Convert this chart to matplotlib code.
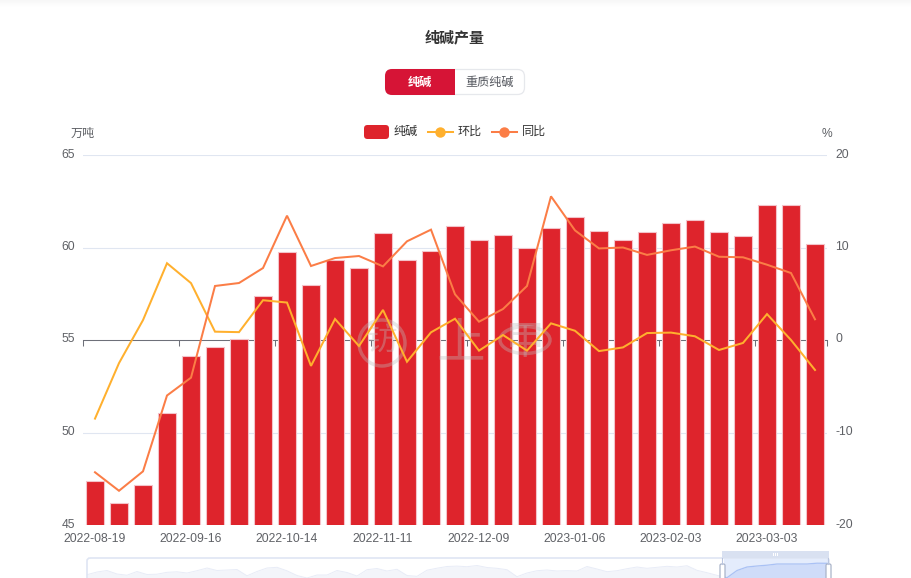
import numpy as np
import matplotlib
matplotlib.use("Agg")
import matplotlib.pyplot as plt
from matplotlib.lines import Line2D
from matplotlib.patches import Circle, Ellipse, FancyBboxPatch, Rectangle
from matplotlib.transforms import ScaledTranslation

plt.rcParams['font.family'] = ['Liberation Sans', 'Noto Sans CJK SC', 'DejaVu Sans']
plt.rcParams['axes.unicode_minus'] = False

dates = ["2022-08-19", "2022-08-26", "2022-09-02", "2022-09-09", "2022-09-16", "2022-09-23",
         "2022-09-30", "2022-10-07", "2022-10-14", "2022-10-21", "2022-10-28", "2022-11-04",
         "2022-11-11", "2022-11-18", "2022-11-25", "2022-12-02", "2022-12-09", "2022-12-16",
         "2022-12-23", "2022-12-30", "2023-01-06", "2023-01-13", "2023-01-20", "2023-01-27",
         "2023-02-03", "2023-02-10", "2023-02-17", "2023-02-24", "2023-03-03", "2023-03-10",
         "2023-03-17"]
output = [47.4, 46.2, 47.15, 51.05, 54.15, 54.6, 55.05, 57.4, 59.75, 58.0, 59.3, 58.9, 60.8,
          59.3, 59.8, 61.15, 60.4, 60.7, 60.0, 61.05, 61.65, 60.9, 60.4, 60.85, 61.3, 61.5,
          60.85, 60.6, 62.3, 62.3, 60.2]
mom = [-8.5, -2.5, 2.15, 8.3, 6.15, 0.9, 0.85, 4.3, 4.05, -2.8, 2.27, -0.65, 3.25, -2.35, 0.83,
       2.3, -1.15, 0.54, -1.15, 1.8, 1.0, -1.2, -0.8, 0.75, 0.8, 0.4, -1.08, -0.32, 2.8, 0.0,
       -3.24]
yoy = [-14.3, -16.3, -14.2, -6.0, -4.07, 5.84, 6.16, 7.78, 13.44, 8.0, 8.86, 9.08, 7.96, 10.67,
       11.93, 4.94, 1.98, 3.35, 5.84, 15.53, 11.85, 9.9, 10.0, 9.2, 9.7, 10.1, 9.0, 8.94, 8.14,
       7.24, 2.24]
left_ticks = [45, 50, 55, 60, 65]
right_ticks = [-20, -10, 0, 10, 20]

# overview strip under the chart, full history (only the top of it is inside the picture)
history = [3.3, 6, 7.5, 4, 2.8, 6.5, 3.5, 3.8, 5.7, 6.2, 5, 7.3, 10, 7.5, 8, 8.5, 2.2, 6.5, 10,
           10.7, 7.2, 2.5, 0, 3, 3, 7.5, 5.5, 2, 8.3, 9.5, 7, 8.7, 2.5, 1.7, 7.8, 9.8, 11.5, 11.9,
           11.3, 12.5, 10.5, 9.7, 8.3, 1.3, 5, 7.3, 8, 7, 7.3, 7, 11.5, 9, 6.3, 7.3, 9.3, 11, 9.7,
           10.7, 11.7, 11, 12.3, 7.7, 5.3, 2.7, 0.3, 7.5, 11, 12, 12.8, 14, 14, 14, 14, 14.8, 14.7]

BAR = '#de242c'
MOM = '#ffb02e'
YOY = '#fb7d46'
GRID = '#e0e6f1'
TEXT = '#5f6166'

W, H = 912, 578
fig = plt.figure(figsize=(W / 100, H / 100), dpi=100, facecolor='white')


def px_axes(x0, y0, x1, y1, **kw):
    # axes placed by picture pixels, y going down
    return fig.add_axes([x0 / W, 1 - y1 / H, (x1 - x0) / W, (y1 - y0) / H], **kw)


# faint band along the top edge
band = px_axes(0, 0, W, 7)
band.imshow(np.linspace(0.965, 1, 32).reshape(-1, 1), cmap='gray', vmin=0, vmax=1, aspect='auto')
band.axis('off')

# full picture overlay in pixel coords, for the non-data pieces
over = px_axes(0, 0, W, H, zorder=5)
over.set_xlim(0, W)
over.set_ylim(H, 0)
over.axis('off')

ax = px_axes(83, 155, 827, 525, zorder=2)
x = np.arange(len(dates))
ax.bar(x, output, width=0.71, color=BAR, edgecolor='#f3c3c9', linewidth=0.8, zorder=2)
ax.set_xlim(-0.5, len(dates) - 0.5)
ax.set_ylim(45, 65)
ax.set_yticks(left_ticks)
ax.set_xticks(x[::4])
ax.set_xticklabels(dates[::4])
ax.tick_params(axis='both', length=0, labelsize=8.7, labelcolor=TEXT)
ax.tick_params(axis='x', pad=5.7)
ax.tick_params(axis='y', pad=5.8)
ax.yaxis.grid(True, color=GRID, linewidth=0.8, zorder=0)
ax.set_axisbelow(True)
for s in ax.spines.values():
    s.set_visible(False)

# the category axis line runs at the zero of the right scale, behind the bars
zero_axis = ax.secondary_xaxis(0.5)
zero_axis.set_xticks(list(x[::4] - 0.5) + [len(dates) - 0.5])
zero_axis.set_xticklabels([])
zero_axis.tick_params(length=4, width=0.75, color='#6e7079', direction='in')
for side in ['top', 'bottom']:
    zero_axis.spines[side].set_color('#6e7079')
    zero_axis.spines[side].set_linewidth(0.75)
zero_axis.set_zorder(1)

# watermark sits over the bars but under the lines
wm = dict(color='#bdbdbd', alpha=0.36, zorder=5, transform=over.transData, clip_on=False)
ax.add_patch(Circle((382, 343), 23, fill=False, linewidth=2.5, ec=wm['color'], alpha=wm['alpha'],
                    zorder=5, transform=over.transData))
ax.add_patch(Ellipse((525, 340), 50, 27, fill=False, linewidth=2.5, ec=wm['color'], alpha=wm['alpha'],
                     zorder=5, transform=over.transData))
ax.text(382, 343, "钫", fontsize=23, ha='center', va='center', **wm)
ax.text(461, 345, "上", fontsize=35, ha='center', va='center', **wm)
ax.text(525, 343, "甲", fontsize=29, ha='center', va='center', **wm)

ax2 = ax.twinx()
ax2.set_zorder(3)
ax2.plot(x, mom, color=MOM, linewidth=1.45, solid_joinstyle='miter')
ax2.plot(x, yoy, color=YOY, linewidth=1.45, solid_joinstyle='miter')
ax2.set_ylim(-20, 20)
ax2.set_yticks(right_ticks)
ax2.tick_params(axis='y', length=0, labelsize=8.7, labelcolor=TEXT, pad=5.8)
for s in ax2.spines.values():
    s.set_visible(False)

# y tick labels sit a little above their grid lines
nudge = ScaledTranslation(0, 2 / 100, fig.dpi_scale_trans)
for label in ax.get_yticklabels() + ax2.get_yticklabels():
    label.set_transform(label.get_transform() + nudge)

# title and the two switch buttons
over.text(455, 38, "纯碱产量", fontsize=10.8, color='#333333', ha='center', va='center', fontweight='bold')
over.add_patch(FancyBboxPatch((385.5, 69.5), 139, 25, boxstyle="round,pad=0,rounding_size=7",
                              fc='white', ec='#e6e8ec', lw=0.9))
red = FancyBboxPatch((385, 69), 140, 26, boxstyle="round,pad=0,rounding_size=7", fc='#d61436', ec='none')
over.add_patch(red)
red.set_clip_path(Rectangle((385, 69), 70, 26, transform=over.transData))
over.text(420, 82.5, "纯碱", fontsize=8.7, color='white', ha='center', va='center', fontweight='bold')
over.text(490, 82.5, "重质纯碱", fontsize=8.7, color='#55585f', ha='center', va='center', fontweight='medium')

# legend
over.add_patch(FancyBboxPatch((364, 125), 25, 14, boxstyle="round,pad=0,rounding_size=3.5", fc=BAR, ec='none'))
over.text(394, 132, "纯碱", fontsize=8.7, color='#333333', va='center')
for x0, color, label in [(428, MOM, "环比"), (492, YOY, "同比")]:
    over.add_line(Line2D([x0, x0 + 25], [132, 132], color=color, linewidth=1.45))
    over.add_line(Line2D([x0 + 12.5], [132], marker='o', markersize=7.5, color=color, markeredgecolor='none'))
    over.text(x0 + 30, 132, label, fontsize=8.7, color='#333333', va='center')

over.text(83, 134, "万吨", fontsize=8.7, color=TEXT, ha='center', va='center')
over.text(827, 134, "%", fontsize=8.7, color=TEXT, ha='center', va='center')

# overview strip
over.add_patch(FancyBboxPatch((87, 558), 742, 40, boxstyle="round,pad=0,rounding_size=3",
                              fc='none', ec='#dfe5f3', lw=1.2))
strip = px_axes(87, 558, 829, 578, zorder=4)
strip.patch.set_alpha(0)
strip.axis('off')
hx = np.arange(len(history))
strip.set_xlim(0, 74.2)
strip.set_ylim(0, 20)
strip.fill_between(hx, 0, history, color='#f3f5fa', lw=0)
strip.plot(hx, history, color='#e8ecf7', linewidth=0.7)
window = Rectangle((63.7, 0), 10.5, 20, transform=strip.transData)
strip.add_patch(Rectangle((63.7, 0), 10.5, 20, fc='#e4ecfc', ec='none'))
sel_fill = strip.fill_between(hx, 0, history, color='#cfdcf9', lw=0)
sel_fill.set_clip_path(window)
sel_line, = strip.plot(hx, history, color='#a9c1f5', linewidth=0.9)
sel_line.set_clip_path(window)

over.add_patch(Rectangle((722, 551), 107, 7, fc='#d9e1f1', ec='none'))
for wx in [722.5, 828.5]:
    over.add_line(Line2D([wx, wx], [558, 564], color='#b9c5df', lw=0.8))
for hx0 in [720, 826]:
    over.add_patch(FancyBboxPatch((hx0, 564), 5, 20, boxstyle="round,pad=0,rounding_size=1.5",
                                  fc='white', ec='#aab4c9', lw=0.9))
for gx in [773, 775, 777]:
    over.add_patch(Rectangle((gx, 553), 1.2, 2.8, fc='white', ec='none'))

fig.savefig("out.png", dpi=100)
